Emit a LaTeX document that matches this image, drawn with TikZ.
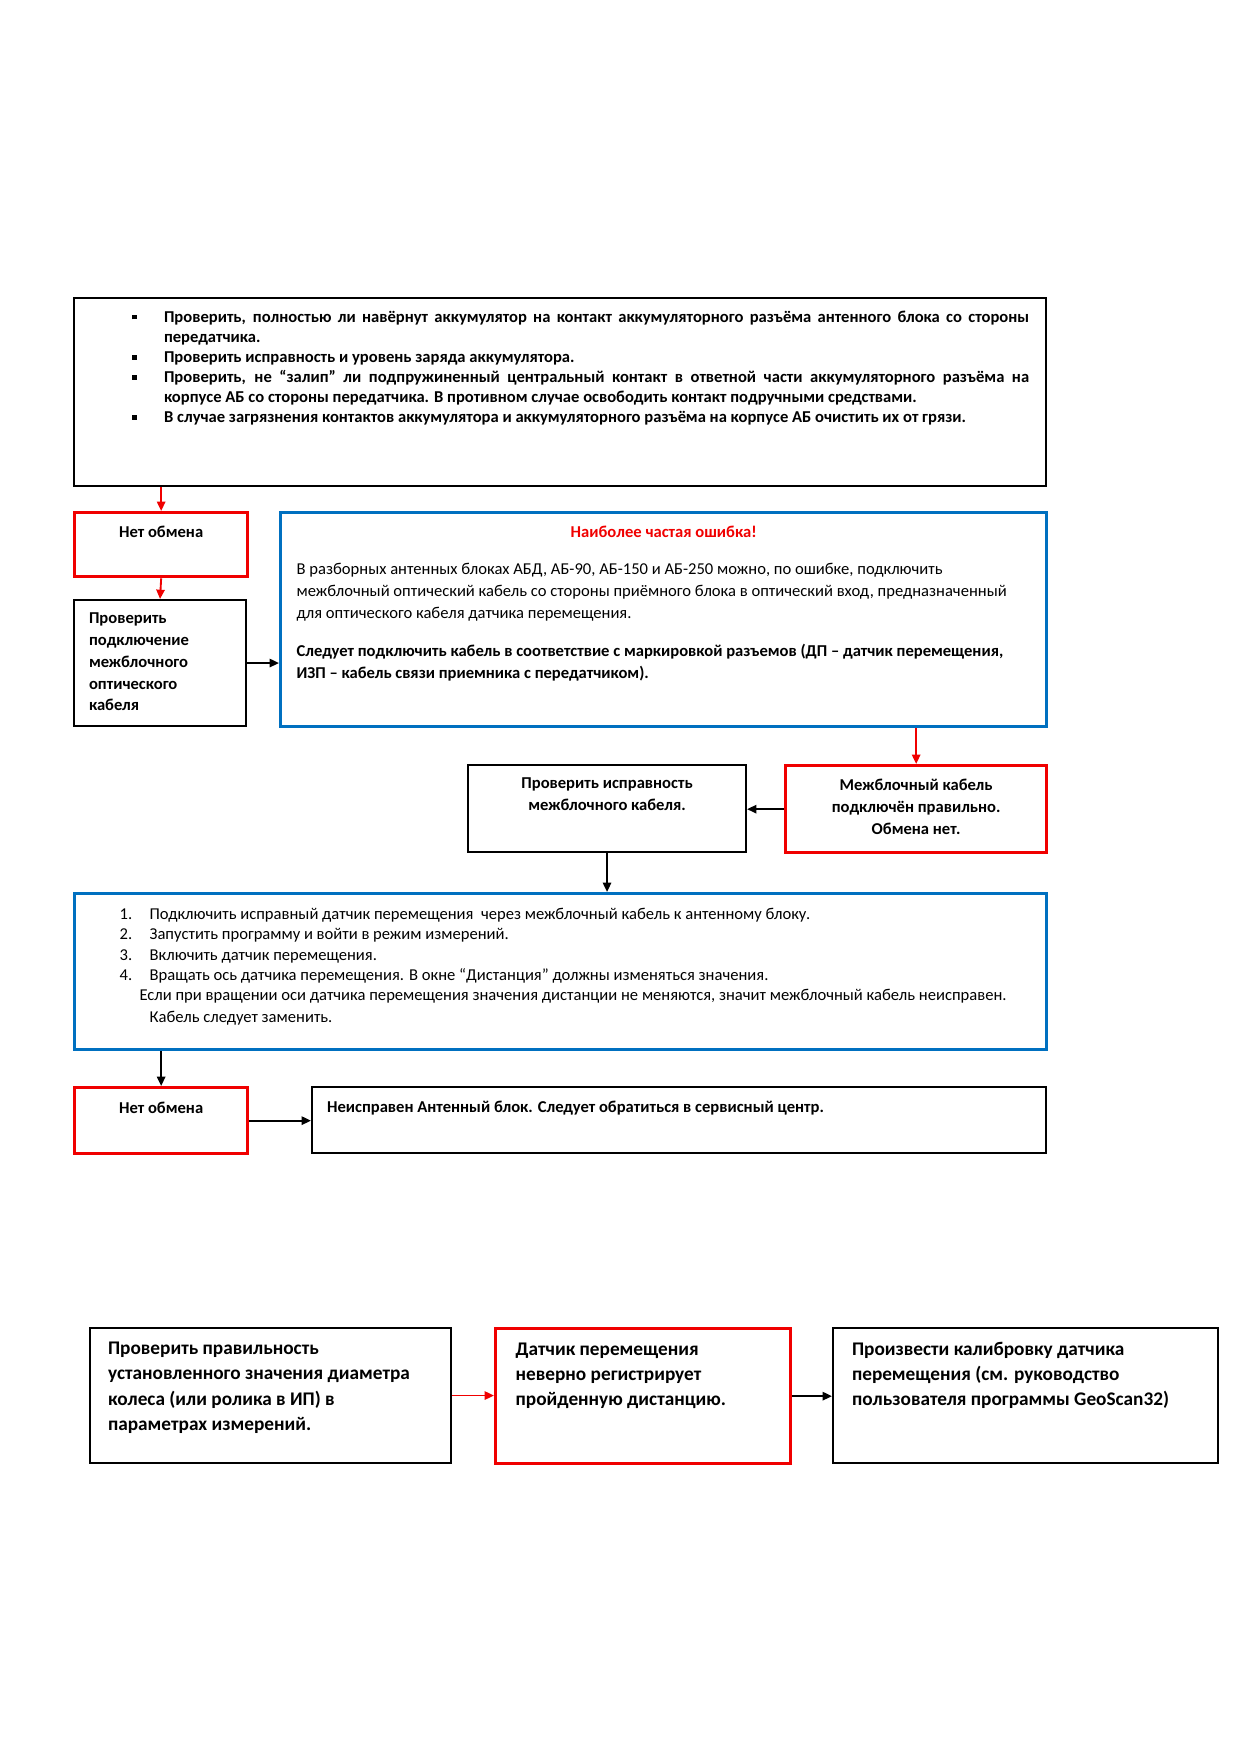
\documentclass[tikz,border=0pt]{standalone}
\usepackage{fontspec}
\setmainfont{Carlito}
\usetikzlibrary{arrows.meta}
\definecolor{boxred}{RGB}{240,0,0}
\definecolor{boxblue}{RGB}{0,112,192}
\newlength\px
\setlength\px{0.16949mm}
\newcommand{\boxtext}[3]{\parbox[c][#2\px][t]{#1\px}{\parindent=0pt #3}}
\newcommand{\sqbullet}{\rule[0.18em]{2.3pt}{2.3pt}}
\newcommand{\bulletitem}{\par\noindent\llap{\makebox[32\px][l]{\sqbullet}}}
\tikzset{
  blackbox/.style={draw=black, line width=1pt, anchor=north west},
  redbox/.style={draw=boxred, line width=1.6pt, anchor=north west},
  bluebox/.style={draw=boxblue, line width=1.6pt, anchor=north west},
  boxpad/.style 2 args={inner xsep=#1*\px, inner ysep=#2*\px},
  blackline/.style={line width=0.9pt, ->},
  redline/.style={line width=0.9pt, boxred, ->}
}
\begin{document}
\begin{tikzpicture}[x=0.16949mm, y=-0.16949mm, >={Triangle[length=4.5pt, width=4pt]}]
  \useasboundingbox[fill=white] (0,0) rectangle (1239,1752);

  % upper part
  \node (checks) [blackbox, boxpad={17}{13}] at (73,297) {\boxtext{938}{162}{%
    \fontsize{8}{9.66}\selectfont\bfseries\leftskip=73\px
    \bulletitem Проверить, полностью ли навёрнут аккумулятор на контакт аккумуляторного разъёма антенного блока со стороны\linebreak передатчика.
    \bulletitem Проверить исправность и уровень заряда аккумулятора.
    \bulletitem Проверить, не “залип” ли подпружиненный центральный контакт в ответной части аккумуляторного разъёма на\linebreak корпусе АБ со стороны передатчика. В противном случае освободить контакт подручными средствами.
    \bulletitem В случае загрязнения контактов аккумулятора и аккумуляторного разъёма на корпусе АБ очистить их от грязи.\par}};

  \node (noexch) [redbox, boxpad={5}{13}] at (73,511) {\boxtext{163}{38}{%
    \fontsize{8}{10.5}\selectfont\bfseries\centering Нет обмена\par}};

  \node (cablecheck) [blackbox, boxpad={15}{13}] at (73,599) {\boxtext{142}{100}{%
    \fontsize{8}{10.5}\selectfont\bfseries
    Проверить\\ подключение\\ межблочного\\ оптического\\ кабеля\par}};

  \node (mistake) [bluebox, boxpad={16}{13}] at (279,511) {\boxtext{734}{188}{%
    \fontsize{8}{10.75}\selectfont
    {\centering\bfseries\color{boxred} Наиболее частая ошибка!\par}
    \parskip=15\px
    В разборных антенных блоках АБД, АБ-90, АБ-150 и АБ-250 можно, по ошибке, подключить\\
    межблочный оптический кабель со стороны приёмного блока в оптический вход, предназначенный\\
    для оптического кабеля датчика перемещения.\par
    {\bfseries Следует подключить кабель в соответствие с маркировкой разъемов (ДП – датчик перемещения,\\
    ИЗП – кабель связи приемника с передатчиком).\par}}};

  \node (cabletest) [blackbox, boxpad={5}{13}] at (467,764) {\boxtext{268}{61}{%
    \fontsize{8}{10.6}\selectfont\bfseries\centering
    Проверить исправность\\ межблочного кабеля.\par}};

  \node (cableok) [redbox, boxpad={5}{13}] at (784,764) {\boxtext{251}{61}{%
    \fontsize{8}{10.6}\selectfont\bfseries\centering
    Межблочный кабель\\ подключён правильно.\\ Обмена нет.\par}};

  \node (steps) [bluebox, boxpad={20}{15}] at (73,892) {\boxtext{932}{126}{%
    \fontsize{8}{9.66}\selectfont
    \hspace*{25\px}\makebox[30\px][l]{1.}Подключить исправный датчик перемещения \ через межблочный кабель к антенному блоку.\\
    \hspace*{25\px}\makebox[30\px][l]{2.}Запустить программу и войти в режим измерений.\\
    \hspace*{25\px}\makebox[30\px][l]{3.}Включить датчик перемещения.\\
    \hspace*{25\px}\makebox[30\px][l]{4.}Вращать ось датчика перемещения. В окне “Дистанция” должны изменяться значения.\\
    \hspace*{45\px}Если при вращении оси датчика перемещения значения дистанции не меняются, значит межблочный кабель неисправен.\\[1pt]
    \hspace*{55\px}Кабель следует заменить.\par}};

  \node (noexch2) [redbox, boxpad={5}{14}] at (73,1086) {\boxtext{163}{38}{%
    \fontsize{8}{10.5}\selectfont\bfseries\centering Нет обмена\par}};

  \node (service) [blackbox, boxpad={15}{14}] at (311,1086) {\boxtext{704}{38}{%
    \fontsize{8}{10.5}\selectfont\bfseries
    Неисправен Антенный блок. Следует обратиться в сервисный центр.\par}};

  \draw [redline] (checks.south -| noexch.north) -- (noexch.north);
  \draw [redline] (noexch.south) -- (cablecheck.north);
  \draw [blackline] (cablecheck.east) -- (cablecheck.east -| mistake.west);
  \draw [redline] (mistake.south -| cableok.north) -- (cableok.north);
  \draw [blackline] (cableok.west) -- (cableok.west -| cabletest.east);
  \draw [blackline] (cabletest.south) -- (cabletest.south |- steps.north);
  \draw [blackline] (steps.south -| noexch2.north) -- (noexch2.north);
  \draw [blackline] (noexch2.east) -- (noexch2.east -| service.west);

  % lower row
  \node (wheel) [blackbox, boxpad={18}{14}] at (89,1327) {\boxtext{325}{107}{%
    \fontsize{9.3}{12.2}\selectfont\bfseries
    Проверить правильность\\ установленного значения диаметра\\ колеса (или ролика в ИП) в\\ параметрах измерений.\par}};

  \node (sensor) [redbox, boxpad={20}{14}] at (494,1327) {\boxtext{255}{107}{%
    \fontsize{9.3}{12.2}\selectfont\bfseries
    Датчик перемещения\\ неверно регистрирует\\ пройденную дистанцию.\par}};

  \node (calib) [blackbox, boxpad={19}{14}] at (832,1327) {\boxtext{347}{107}{%
    \fontsize{9.3}{12.2}\selectfont\bfseries
    Произвести калибровку датчика\\ перемещения (см. руководство\\ пользователя программы GeoScan32)\par}};

  \draw [redline] (wheel.east) -- (wheel.east -| sensor.west);
  \draw [blackline] (sensor.east) -- (sensor.east -| calib.west);

\end{tikzpicture}
\end{document}
